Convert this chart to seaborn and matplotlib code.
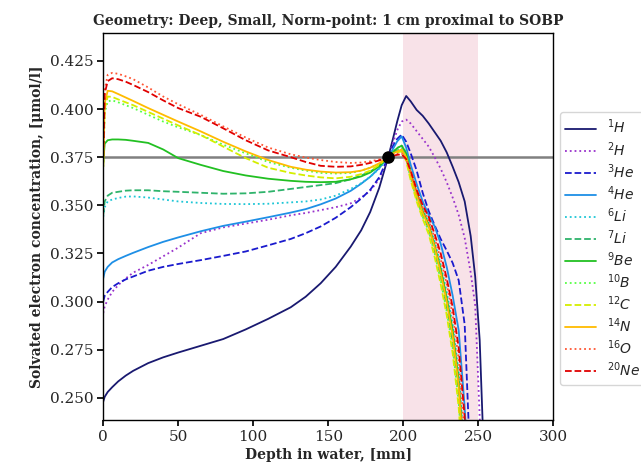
import numpy as np
import pandas as pd
import seaborn as sns
import matplotlib.pyplot as plt

# depth grid [mm]; concentrations [umol/l]
depth = [0, 1, 3, 6, 10, 15, 20, 30, 40, 50, 65, 80, 95, 110, 125, 135, 145, 155, 165, 172,
         178, 184, 190, 193, 196, 199,
         202, 205, 209, 213, 217, 221, 225, 229, 233, 237, 241, 245, 248, 251, 254, 257]

H1 = [0.248, 0.2505, 0.253, 0.2555, 0.2585, 0.2615, 0.264, 0.268, 0.271, 0.2735, 0.277, 0.2805,
      0.2855, 0.291, 0.297, 0.3025, 0.3095, 0.318, 0.3285, 0.337, 0.3465, 0.359, 0.375, 0.384,
      0.3935, 0.402,
      0.4068, 0.404, 0.3995, 0.3965, 0.3925, 0.388, 0.3835, 0.3775, 0.370, 0.362, 0.352, 0.334,
      0.313, 0.280, 0.215, 0.18]
H2 = [0.294, 0.2975, 0.301, 0.305, 0.3085, 0.312, 0.315, 0.319, 0.3235, 0.328, 0.3355, 0.3385,
      0.3405, 0.3425, 0.3448, 0.346, 0.3475, 0.349, 0.351, 0.354, 0.3575, 0.3635, 0.375, 0.382,
      0.389, 0.3935,
      0.3945, 0.3925, 0.3885, 0.3845, 0.3805, 0.375, 0.369, 0.362, 0.354, 0.345, 0.333, 0.315,
      0.298, 0.24, 0.19, 0.17]
He3 = [0.300, 0.303, 0.305, 0.3075, 0.3095, 0.3115, 0.313, 0.316, 0.318, 0.3195, 0.3215, 0.3237,
       0.326, 0.3292, 0.3325, 0.3355, 0.339, 0.3435, 0.349, 0.3535, 0.358, 0.3645, 0.375, 0.3805,
       0.3845, 0.3867,
       0.383, 0.377, 0.368, 0.3565, 0.347, 0.3395, 0.3325, 0.3265, 0.320, 0.311, 0.288, 0.21,
       0.18, 0.17, 0.16, 0.15]
He4 = [0.312, 0.3155, 0.318, 0.3203, 0.322, 0.3237, 0.3253, 0.3283, 0.331, 0.3333, 0.3365, 0.3393,
       0.3415, 0.3438, 0.3462, 0.348, 0.3505, 0.3535, 0.3575, 0.3612, 0.3648, 0.3693, 0.375, 0.379,
       0.3832, 0.3858,
       0.380, 0.371, 0.361, 0.352, 0.345, 0.339, 0.330, 0.318, 0.303, 0.285, 0.245, 0.19,
       0.17, 0.16, 0.15, 0.15]
Li6 = [0.344, 0.349, 0.352, 0.353, 0.3538, 0.3545, 0.3546, 0.354, 0.353, 0.352, 0.3512, 0.3507,
       0.3506, 0.3508, 0.3515, 0.352, 0.353, 0.355, 0.3585, 0.3615, 0.3648, 0.369, 0.375, 0.3778,
       0.3798, 0.381,
       0.3775, 0.368, 0.357, 0.348, 0.341, 0.331, 0.319, 0.305, 0.288, 0.263, 0.22, 0.17,
       0.16, 0.15, 0.15, 0.15]
Li7 = [0.345, 0.352, 0.355, 0.3565, 0.357, 0.3576, 0.3578, 0.3578, 0.3573, 0.357, 0.3565, 0.356,
       0.3562, 0.357, 0.3585, 0.3595, 0.3605, 0.3615, 0.3635, 0.3655, 0.3675, 0.3705, 0.375, 0.377,
       0.3785, 0.3795,
       0.375, 0.365, 0.354, 0.345, 0.338, 0.3265, 0.313, 0.2975, 0.279, 0.252, 0.205, 0.17,
       0.16, 0.15, 0.15, 0.15]
Be9 = [0.372, 0.382, 0.3838, 0.3842, 0.3842, 0.384, 0.3835, 0.3824, 0.379, 0.3745, 0.371, 0.3678,
       0.3655, 0.3638, 0.3627, 0.3622, 0.362, 0.3622, 0.3635, 0.365, 0.367, 0.3703, 0.375, 0.3775,
       0.3797, 0.381,
       0.377, 0.367, 0.356, 0.347, 0.340, 0.329, 0.317, 0.302, 0.285, 0.259, 0.215, 0.17,
       0.16, 0.15, 0.15, 0.15]
B10 = [0.370, 0.398, 0.404, 0.4045, 0.4035, 0.402, 0.4005, 0.397, 0.3935, 0.3905, 0.3865, 0.3815,
       0.377, 0.3725, 0.3695, 0.368, 0.3668, 0.3665, 0.3668, 0.368, 0.3695, 0.3715, 0.375, 0.377,
       0.378, 0.379,
       0.374, 0.364, 0.353, 0.344, 0.3365, 0.325, 0.311, 0.295, 0.276, 0.248, 0.20, 0.17,
       0.16, 0.15, 0.15, 0.15]
C12 = [0.370, 0.400, 0.4065, 0.4063, 0.405, 0.4035, 0.402, 0.3985, 0.395, 0.3915, 0.3865, 0.3805,
       0.3745, 0.3695, 0.3668, 0.3655, 0.3645, 0.364, 0.3648, 0.3662, 0.368, 0.371, 0.375, 0.3765,
       0.3775, 0.378,
       0.373, 0.363, 0.352, 0.343, 0.335, 0.323, 0.309, 0.293, 0.273, 0.245, 0.20, 0.17,
       0.16, 0.15, 0.15, 0.15]
N14 = [0.370, 0.403, 0.4095, 0.4092, 0.4078, 0.406, 0.4042, 0.4005, 0.397, 0.3935, 0.3884, 0.383,
       0.378, 0.3735, 0.370, 0.3685, 0.3675, 0.367, 0.3672, 0.368, 0.3695, 0.3718, 0.375, 0.3768,
       0.378, 0.379,
       0.375, 0.366, 0.355, 0.346, 0.339, 0.328, 0.315, 0.300, 0.282, 0.256, 0.21, 0.17,
       0.16, 0.15, 0.15, 0.15]
O16 = [0.375, 0.410, 0.4178, 0.4188, 0.4183, 0.417, 0.4155, 0.4112, 0.4065, 0.4025, 0.397, 0.391,
       0.3852, 0.380, 0.3765, 0.3748, 0.3735, 0.3725, 0.372, 0.3722, 0.3728, 0.3738, 0.375, 0.376,
       0.3767, 0.377,
       0.374, 0.367, 0.357, 0.349, 0.342, 0.333, 0.322, 0.309, 0.293, 0.270, 0.23, 0.18,
       0.16, 0.15, 0.15, 0.15]
Ne20 = [0.375, 0.408, 0.4145, 0.416, 0.4155, 0.4142, 0.4125, 0.4088, 0.4045, 0.4005, 0.396, 0.390,
        0.3838, 0.3785, 0.375, 0.3725, 0.3705, 0.370, 0.3702, 0.371, 0.372, 0.3733, 0.375, 0.3757,
        0.3762, 0.3765,
        0.374, 0.368, 0.358, 0.350, 0.344, 0.335, 0.325, 0.312, 0.297, 0.276, 0.24, 0.185,
        0.16, 0.15, 0.15, 0.15]

labels = ['$^{1}H$', '$^{2}H$', '$^{3}He$', '$^{4}He$', '$^{6}Li$', '$^{7}Li$',
          '$^{9}Be$', '$^{10}B$', '$^{12}C$', '$^{14}N$', '$^{16}O$', '$^{20}Ne$']
series = [H1, H2, He3, He4, Li6, Li7, Be9, B10, C12, N14, O16, Ne20]
colors = ['#191970', '#9932cc', '#1a1acd', '#1e8fe6', '#1cc6d6', '#2eb36b',
          '#22c022', '#55ff44', '#d4ee00', '#ffbb00', '#ff5533', '#e00000']
styles = ['-', ':', '--', '-', ':', '--', '-', ':', '--', '-', ':', '--']

sns.set_theme(style='ticks', rc={'axes.edgecolor': 'black', 'axes.linewidth': 1.0})
plt.rcParams['font.family'] = ['DejaVu Serif']

fig, ax = plt.subplots(figsize=(6.41, 4.65), dpi=100)
fig.subplots_adjust(left=0.161, right=0.863, top=0.929, bottom=0.097)

ax.axvspan(200, 250, color='#f7dde4', alpha=0.85, lw=0, zorder=0)
ax.axhline(0.375, color='grey', lw=1.8, zorder=1)

for y, lab, c, ls in zip(series, labels, colors, styles):
    df = pd.DataFrame({'depth': depth, 'conc': y})
    sns.lineplot(data=df, x='depth', y='conc', color=c, linestyle=ls, lw=1.3,
                 label=lab, ax=ax, zorder=2)

ax.plot([190], [0.375], 'o', color='black', ms=8, zorder=5)

ax.set_xlim(0, 300)
ax.set_ylim(0.2385, 0.4395)
ax.set_xticks([0, 50, 100, 150, 200, 250, 300])
ax.set_yticks([0.25, 0.275, 0.3, 0.325, 0.35, 0.375, 0.4, 0.425])
ax.tick_params(labelsize=11, direction='out', length=4, color='black', pad=3)
for sp in ax.spines.values():
    sp.set_visible(True)

ax.set_xlabel('Depth in water, [mm]', fontsize=10, fontweight='bold', labelpad=3)
ax.set_ylabel('Solvated electron concentration, [μmol/l]', fontsize=10, fontweight='bold')
ax.set_title('Geometry: Deep, Small, Norm-point: 1 cm proximal to SOBP',
             fontsize=10, fontweight='bold', pad=6)

leg = ax.legend(loc='upper left', bbox_to_anchor=(1.015, 0.795), handlelength=2.2,
                labelspacing=0.25, borderaxespad=0, frameon=True,
                prop={'family': 'DejaVu Sans', 'size': 10})
leg.get_frame().set_edgecolor('#cccccc')

fig.savefig('out.png', dpi=100)
